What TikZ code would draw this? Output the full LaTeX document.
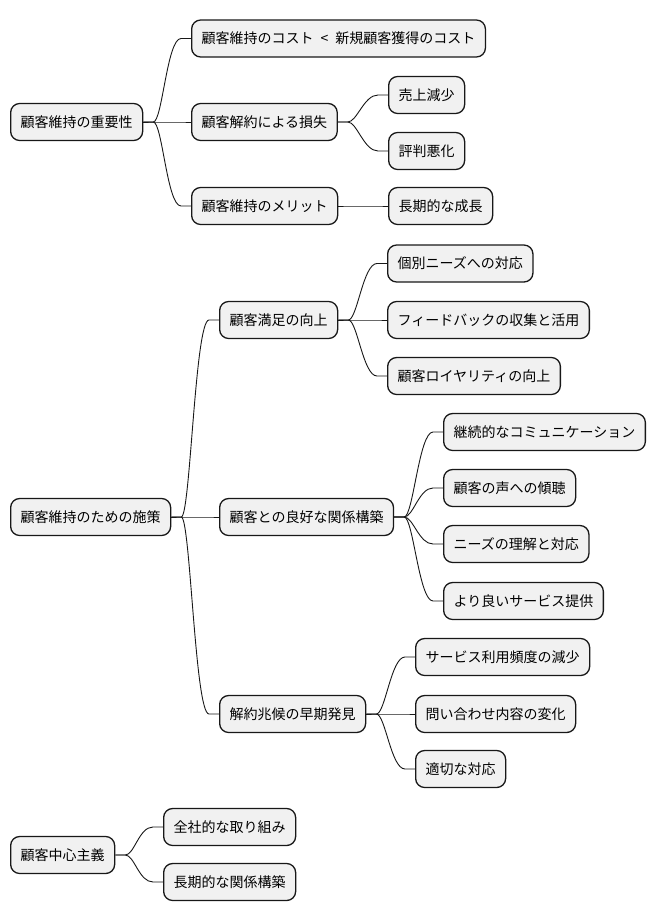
\documentclass[tikz,border=0pt]{standalone}
\usepackage{fontspec}
\setmainfont{Noto Sans CJK JP}
\usepackage{tikz}
\usetikzlibrary{calc}
\definecolor{mmfill}{HTML}{F1F1F1}
\definecolor{mmline}{HTML}{181818}
\tikzset{
  mmnode/.style={rectangle, draw=mmline, fill=mmfill, line width=1.3pt,
                 rounded corners=9pt, anchor=west, minimum height=37pt,
                 inner xsep=10pt, inner ysep=0pt,
                 font=\fontsize{14}{16}\selectfont},
  mmedge/.style={mmline, line width=0.9pt},
}
% parent -> child connector
\newcommand{\mmlink}[2]{%
  \draw[mmedge] (#1.east) -- ++(10,0)
    .. controls +(9,0) and +(-14,0) .. ($(#2.west)+(-10,0)$) -- (#2.west);}

\begin{document}
\begin{tikzpicture}[x=1pt,y=-1pt]
  \useasboundingbox (0,0) rectangle (656,921);

  % X positions (levels)
  \def\xR{10}
  \def\xAa{191}
  \def\xAb{388}
  \def\xBa{219}
  \def\xBb{387}
  \def\xBc{443}
  \def\xBd{415}
  \def\xCa{163}

  % --- Group 1 ---
  \node[mmnode] (imp) at (\xR,122) {顧客維持の重要性};
  \node[mmnode] (cost) at (\xAa,38.5) {顧客維持のコスト\hspace{7pt}<\hspace{7pt}新規顧客獲得のコスト};
  \node[mmnode] (loss) at (\xAa,122) {顧客解約による損失};
  \node[mmnode] (merit) at (\xAa,206) {顧客維持のメリット};
  \node[mmnode] (sales) at (\xAb,95) {売上減少};
  \node[mmnode] (repu) at (\xAb,151) {評判悪化};
  \node[mmnode] (grow) at (\xAb,206) {長期的な成長};

  \mmlink{imp}{cost}
  \mmlink{imp}{loss}
  \mmlink{imp}{merit}
  \mmlink{loss}{sales}
  \mmlink{loss}{repu}
  \mmlink{merit}{grow}

  % --- Group 2 ---
  \node[mmnode] (meas) at (\xR,517) {顧客維持のための施策};
  \node[mmnode] (satis) at (\xBa,320) {顧客満足の向上};
  \node[mmnode] (rel) at (\xBa,517) {顧客との良好な関係構築};
  \node[mmnode] (early) at (\xBa,714) {解約兆候の早期発見};

  \node[mmnode] (needs) at (\xBb,263.5) {個別ニーズへの対応};
  \node[mmnode] (feed) at (\xBb,320) {フィードバックの収集と活用};
  \node[mmnode] (loyal) at (\xBb,376) {顧客ロイヤリティの向上};

  \node[mmnode] (comm) at (\xBc,432) {継続的なコミュニケーション};
  \node[mmnode] (voice) at (\xBc,488) {顧客の声への傾聴};
  \node[mmnode] (under) at (\xBc,544) {ニーズの理解と対応};
  \node[mmnode] (serv) at (\xBc,601) {より良いサービス提供};

  \node[mmnode] (freq) at (\xBd,657) {サービス利用頻度の減少};
  \node[mmnode] (inq) at (\xBd,714) {問い合わせ内容の変化};
  \node[mmnode] (resp) at (\xBd,769) {適切な対応};

  \mmlink{meas}{satis}
  \mmlink{meas}{rel}
  \mmlink{meas}{early}
  \mmlink{satis}{needs}
  \mmlink{satis}{feed}
  \mmlink{satis}{loyal}
  \mmlink{rel}{comm}
  \mmlink{rel}{voice}
  \mmlink{rel}{under}
  \mmlink{rel}{serv}
  \mmlink{early}{freq}
  \mmlink{early}{inq}
  \mmlink{early}{resp}

  % --- Group 3 ---
  \node[mmnode] (cent) at (\xR,855) {顧客中心主義};
  \node[mmnode] (whole) at (\xCa,827) {全社的な取り組み};
  \node[mmnode] (longrel) at (\xCa,882) {長期的な関係構築};

  \mmlink{cent}{whole}
  \mmlink{cent}{longrel}

\end{tikzpicture}
\end{document}
